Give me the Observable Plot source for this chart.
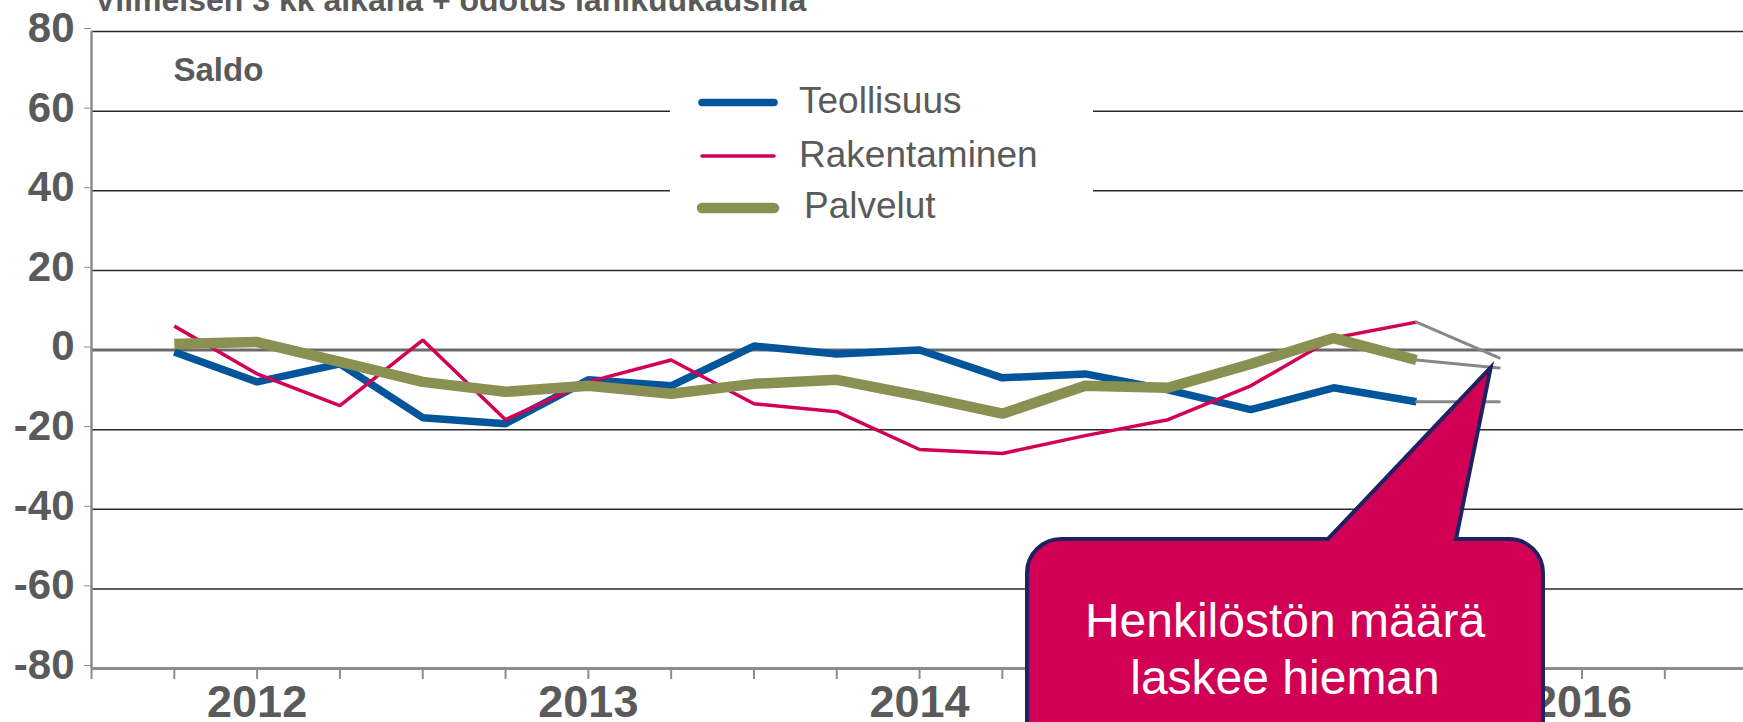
<!DOCTYPE html>
<html><head><meta charset="utf-8">
<script src="https://cdn.jsdelivr.net/npm/d3@7"></script>
<script src="https://cdn.jsdelivr.net/npm/@observablehq/plot@0.6"></script>
<style>
body{margin:0;background:#fff;}
#wrap{position:relative;width:1743px;height:722px;overflow:hidden;background:#fff;}
</style></head><body><div id="wrap"></div>
<script>
// ---- data ----
const quarterIndex = [0,1,2,3,4,5,6,7,8,9,10,11,12,13,14,15];
const teollisuus   = [-0.5,-8,-3.5,-17,-18.5,-7.5,-9,1,-1,0,-7,-6,-10,-15,-9.5,-13];
const rakentaminen = [6,-6,-14,2.5,-17.5,-8,-2.5,-13.5,-15.5,-25,-26,-21.5,-17.5,-9,3,7];
const palvelut     = [1.5,2,-3,-8,-10.5,-9,-11,-8.5,-7.5,-11.5,-16,-9,-9.5,-3.5,3,-2.5];
const forecastIndex = 16;
const forecastValues = [-13, -2, -4.5]; // Teollisuus, Rakentaminen, Palvelut
const seriesNames  = ["Teollisuus","Rakentaminen","Palvelut"];
const seriesColors = ["#02549b","#d10055","#8a8f52"];
const seriesWidths = [7.5, 3.5, 10.5];
const yTicks = [-80,-60,-40,-20,0,20,40,60,80];
const xTickPositions = [-1,0,1,2,3,4,5,6,7,8,9,10,11,12,13,14,15,16,17,18];
const yearLabels = ["2012","2013","2014","2015","2016"];
const yearLabelPositions = [1,5,9,13,17];
const titleText = "Viimeisen 3 kk aikana + odotus lähikuukausina";
const unitText = "Saldo";
const calloutLines = ["Henkilöstön määrä","laskee hieman"];

const FONT = "'Liberation Sans', Arial, Helvetica, sans-serif";
const GRAYTXT = "#5a5a5a";

const seriesValues = [teollisuus, rakentaminen, palvelut];
const rows = seriesValues.flatMap((vals, s) => vals.map((v, k) => ({i: quarterIndex[k], v, s})));
const forecastRows = seriesValues.flatMap((vals, s) => [
  {i: quarterIndex[vals.length-1], v: vals[vals.length-1], s},
  {i: forecastIndex, v: forecastValues[s], s}
]);
const yearTicks = yearLabelPositions.map((p, k) => ({p, label: yearLabels[k]}));

const chart = Plot.plot({
  width: 1743, height: 722,
  marginLeft: 91, marginRight: 0, marginTop: 31, marginBottom: 54,
  x: {domain: [-1, 18.95], axis: null},
  y: {domain: [-80, 80], axis: null},
  style: {fontFamily: FONT, background: "white", overflow: "hidden"},
  marks: [
    Plot.ruleY(yTicks.filter(d => d !== 0 && d !== -80), {stroke: "#2a2a2a", strokeWidth: 1.5}),
    Plot.ruleY([0], {stroke: "#6a6a6a", strokeWidth: 3}),
    Plot.axisX(xTickPositions, {tickSize: 11, tickFormat: () => "", label: null, stroke: "#8c8c8c", strokeWidth: 2, anchor: "bottom"}),
    Plot.ruleY([-80], {stroke: "#8c8c8c", strokeWidth: 3}),
    Plot.ruleX([-1], {y1: -80, y2: 80, stroke: "#8c8c8c", strokeWidth: 2.5}),
    Plot.axisY(yTicks, {tickSize: 7, tickPadding: 10, label: null, tickFormat: d => String(d), stroke: "#8c8c8c", fill: GRAYTXT, fontSize: 42, fontWeight: "bold", anchor: "left", dy: -3}),
    Plot.text(yearTicks, {x: "p", y: () => -80, dy: 17, lineAnchor: "top", text: "label", fontSize: 45, fontWeight: "bold", fill: GRAYTXT}),
    Plot.text([titleText], {frameAnchor: "top-left", dx: 3, dy: -21, lineAnchor: "bottom", text: d => d, fontSize: 32, fontWeight: "bold", fill: GRAYTXT, textAnchor: "start"}),
    Plot.text([unitText], {frameAnchor: "top-left", dx: 82, dy: 39, lineAnchor: "middle", text: d => d, fontSize: 33, fontWeight: "bold", fill: GRAYTXT, textAnchor: "start"}),
    ...[0,1,2].map(s => Plot.line(rows.filter(r => r.s === s), {x: "i", y: "v", stroke: seriesColors[s], strokeWidth: seriesWidths[s], strokeLinejoin: "miter", strokeLinecap: "butt"})),
    ...[0,1,2].map(s => Plot.line(forecastRows.filter(r => r.s === s), {x: "i", y: "v", stroke: "#878787", strokeWidth: 3}))
  ]
});

const svg = d3.select(chart);
// legend
const lg = svg.append("g");
lg.append("rect").attr("x", 670).attr("y", 76).attr("width", 423).attr("height", 158).attr("fill", "white");
const legendLineY = [102.5, 156, 208];
const legendTextY = [113, 167, 218];
const legendTextX = [799, 799, 804];
seriesNames.forEach((name, s) => {
  lg.append("line").attr("x1", 702).attr("x2", 774).attr("y1", legendLineY[s]).attr("y2", legendLineY[s])
    .attr("stroke", seriesColors[s]).attr("stroke-width", seriesWidths[s]).attr("stroke-linecap", "round");
  lg.append("text").attr("x", legendTextX[s]).attr("y", legendTextY[s]).attr("text-anchor", "start")
    .attr("font-size", 37).attr("fill", GRAYTXT).attr("font-family", FONT).text(name);
});
// callout
const xs = chart.scale("x"), ys = chart.scale("y");
const tipX = xs.apply(forecastIndex) - 8, tipY = ys.apply(forecastValues[2]);
const L = 1027, R = 1543, T = 539, B = 780, r = 34, p1 = 1328, p2 = 1456;
const path = `M${L+r},${T} L${p1},${T} L${tipX},${tipY} L${p2},${T} L${R-r},${T} A${r},${r} 0 0 1 ${R},${T+r} L${R},${B} L${L},${B} L${L},${T+r} A${r},${r} 0 0 1 ${L+r},${T} Z`;
const cg = svg.append("g");
cg.append("path").attr("d", path).attr("fill", "#d10055").attr("stroke", "#1f2163").attr("stroke-width", 4).attr("stroke-linejoin", "miter");
calloutLines.forEach((t, k) => {
  cg.append("text").attr("x", (L+R)/2).attr("y", 637 + k*57).attr("text-anchor", "middle")
    .attr("font-size", 48).attr("fill", "white").attr("font-family", FONT).text(t);
});
document.getElementById("wrap").appendChild(chart);
</script></body></html>
